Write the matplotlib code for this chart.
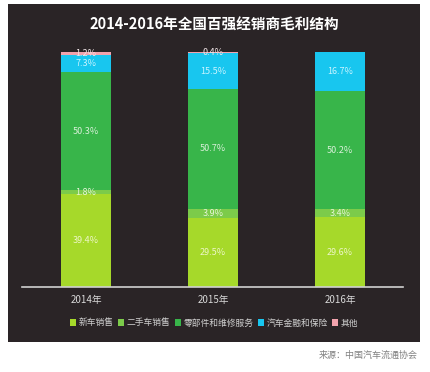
import matplotlib
matplotlib.use("Agg")
import matplotlib.pyplot as plt
from matplotlib.patches import Rectangle, Patch
import numpy as np

plt.rcParams['font.family'] = ['Noto Sans CJK SC', 'DejaVu Sans']

years = ['2014年', '2015年', '2016年']
series_names = ['新车销售', '二手车销售', '零部件和维修服务', '汽车金融和保险', '其他']
new_car = [39.4, 29.5, 29.6]
used_car = [1.8, 3.9, 3.4]
parts = [50.3, 50.7, 50.2]
finance = [7.3, 15.5, 16.7]
other = [1.2, 0.4, 0.0]
series = [new_car, used_car, parts, finance, other]
colors = ['#a6d92a', '#7ccb4a', '#38b54a', '#18c6ef', '#f2a3ad']
label_colors = ['#eef6c8', '#e6f5d8', '#d8f0d8', '#c8f4ff', '#f4e8ea']

W, H = 431, 372
fig = plt.figure(figsize=(W / 100, H / 100), dpi=100)
fig.patch.set_facecolor('white')
bg = '#2a2426'
fig.add_artist(Rectangle((8 / W, 1 - 342 / H), (420 - 8) / W, (342 - 4) / H,
                         transform=fig.transFigure, facecolor=bg, edgecolor='none', zorder=0))

ax = fig.add_axes([22 / W, 1 - 287 / H, (403 - 22) / W, (287 - 52) / H])
ax.set_facecolor('none')
x = np.arange(len(years))
bottom = np.zeros(len(years))
for vals, c, lc in zip(series, colors, label_colors):
    vals = np.array(vals)
    ax.bar(x, vals, 0.394, bottom=bottom, color=c, edgecolor='none', zorder=2)
    for xi, v, b in zip(x, vals, bottom):
        if v > 0:
            ax.text(xi, b + v / 2, f'{v:.1f}%', ha='center', va='center',
                    color=lc, fontsize=6.5, zorder=3)
    bottom += vals

ax.set_xlim(-0.504, 2.496)
ax.set_ylim(0, 100)
ax.set_yticks([])
ax.set_xticks(x)
ax.set_xticklabels(years, color='#d8d8d8', fontsize=7)
ax.tick_params(axis='x', length=0, pad=6)
for s in ['top', 'left', 'right']:
    ax.spines[s].set_visible(False)
ax.spines['bottom'].set_color('#d0d0d0')
ax.spines['bottom'].set_linewidth(1.2)

fig.text(214 / W, 1 - 24 / H, '2014-2016年全国百强经销商毛利结构', ha='center', va='center',
         color='white', fontsize=10.5, fontweight='bold')

handles = [Patch(facecolor=c, edgecolor='none') for c in colors]
leg = fig.legend(handles, series_names, loc='center', bbox_to_anchor=(214 / W, 1 - 323 / H),
                 ncol=5, frameon=False, fontsize=6.3, handlelength=0.7, handleheight=0.7,
                 handletextpad=0.3, columnspacing=0.5, labelcolor='#d0d0d0')

fig.text(418 / W, 1 - 355 / H, '来源：中国汽车流通协会', ha='right', va='center',
         color='#808080', fontsize=6.5, style='italic')

fig.savefig('out.png', dpi=100, facecolor=fig.get_facecolor())
